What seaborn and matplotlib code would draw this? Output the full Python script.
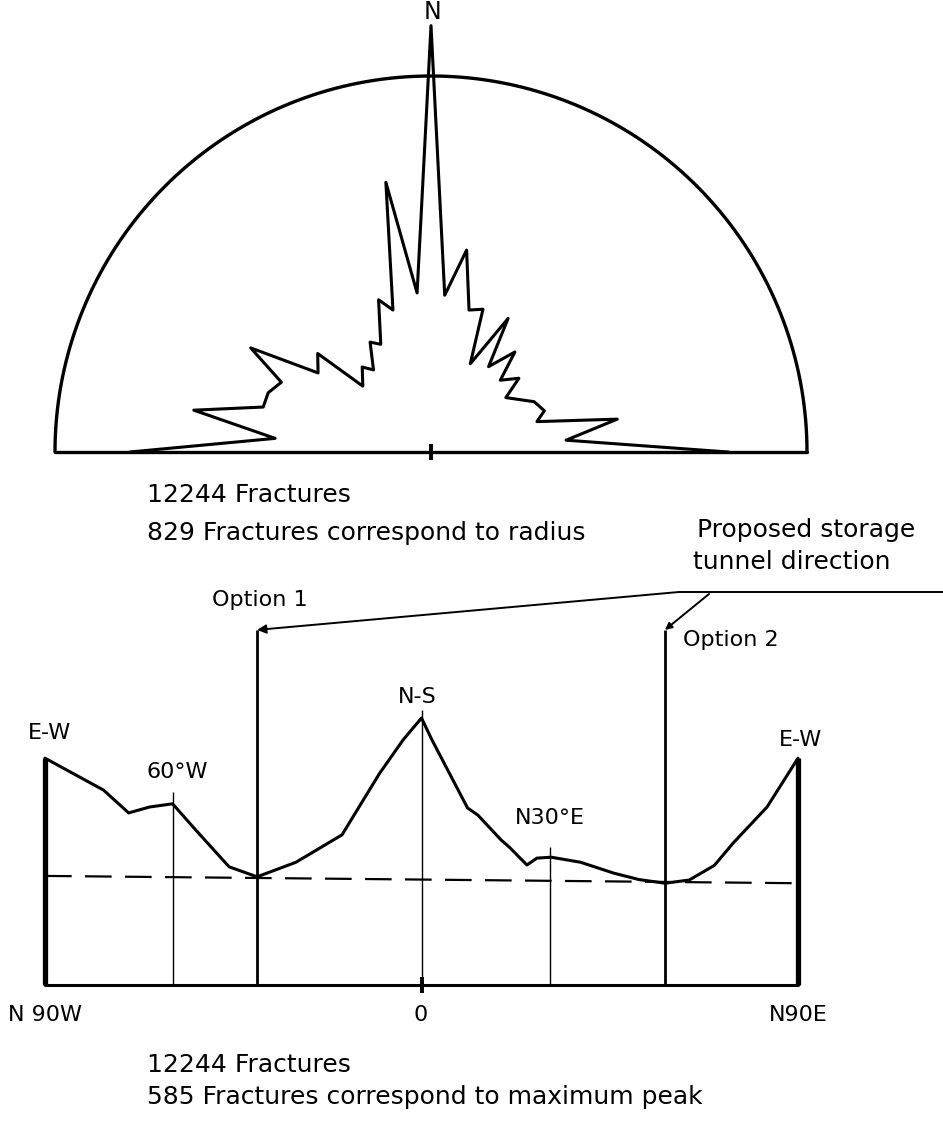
import numpy as np
import pandas as pd
import seaborn as sns
import matplotlib.pyplot as plt

W, H, DPI = 943, 1124, 100

# --- rose diagram (top): azimuth from N in degrees (W negative), fracture count
rose_az = [-90, -85, -80, -75, -70, -65, -60, -55, -49, -46, -39, -35, -29, -25,
           -19, -15, -9.5, -5, 0, 5, 10, 15, 20, 24, 30, 34, 40, 44, 50, 54,
           64, 70, 74, 80, 85, 90]
rose_n = [664, 345, 531, 383, 382, 364, 459, 304, 331, 209, 241, 221, 277, 262,
          355, 324, 603, 352, 940, 347, 452, 324, 335, 213, 340, 227, 288, 220,
          253, 204, 253, 266, 243, 417, 299, 655]
radius_n = 829

# --- strike profile (bottom): strike in degrees (N90W = -90, N90E = 90)
strike_deg = [-90, -76, -70, -65, -59.5, -54, -46, -39.3, -30, -19, -10, -4.4,
              0, 2.5, 11, 13.5, 19, 21, 25.2, 27.6, 31, 38, 46, 52, 58.2, 64,
              70, 74.5, 82.6, 90]
strike_n = [497, 427, 377, 390, 397, 340, 259, 237, 269, 329, 464, 537,
            585, 537, 388, 372, 318, 302, 263, 278, 280, 269, 245, 231, 223, 230,
            262, 311, 390, 497]
mean_level = [239, 223]          # dashed level at N90W and N90E
option_deg = [-39.3, 58.2]
option_top = 778
mark_deg = [-59.5, 0, 30.7]
mark_top = [423, 603, 302]
mark_names = ["60°W", "N-S", "N30°E"]

sns.set_style("white")
plt.rcParams["font.family"] = ["DejaVu Sans"]
plt.rcParams["text.color"] = "black"
fig = plt.figure(figsize=(W / DPI, H / DPI), dpi=DPI)


def box(x0, y0, x1, y1):
    ax = fig.add_axes([x0 / W, 1 - y1 / H, (x1 - x0) / W, (y1 - y0) / H])
    ax.set_axis_off()
    return ax


def ftext(x, y, s, **kw):
    kw.setdefault("fontsize", 18)
    kw.setdefault("va", "center")
    fig.text(x / W, 1 - y / H, s, color="black", **kw)


# ================= rose =================
cx, cy, rpx = 431, 452, 376
k = radius_n / rpx
ax1 = box(0, 0, W, 475)
ax1.set_xlim(-cx * k, (W - cx) * k)
ax1.set_ylim(-(475 - cy) * k, cy * k)

az = np.radians(rose_az)
rn = np.array(rose_n, dtype=float)
rose = pd.DataFrame({"x": rn * np.sin(az), "y": rn * np.cos(az)})
sns.lineplot(data=rose, x="x", y="y", sort=False, estimator=None,
             color="black", lw=2.2, ax=ax1)

t = np.linspace(0, np.pi, 300)
sns.lineplot(x=radius_n * np.cos(t), y=radius_n * np.sin(t), sort=False,
             estimator=None, color="black", lw=2.4, ax=ax1)
ax1.plot([-radius_n, radius_n], [0, 0], color="black", lw=2.4)
ax1.vlines(0, -8 * k, 8 * k, color="black", lw=2.8)

ftext(432, 12, "N", ha="center", fontsize=17)
ftext(147, 495, "12244 Fractures")
ftext(147, 533, "829 Fractures correspond to radius")

# ================= strike profile =================
x0d, ppd = 421.5, 753 / 180
base, cp = 985, 585 / 267
ax2 = box(0, 480, W, H)
ax2.set_xlim(-x0d / ppd, (W - x0d) / ppd)
ax2.set_ylim(-(H - base) * cp, (base - 480) * cp)


def dg(px):
    return (px - x0d) / ppd


def ct(py):
    return (base - py) * cp


prof = pd.DataFrame({"deg": strike_deg, "n": strike_n})
sns.lineplot(data=prof, x="deg", y="n", sort=False, estimator=None,
             color="black", lw=2.2, ax=ax2)
ax2.plot([-90, 90], mean_level, color="black", lw=1.6, ls=(0, (12, 6)))

ax2.plot([-90, 90], [0, 0], color="black", lw=2.2)
ax2.vlines([-90, 90], 0, [strike_n[0], strike_n[-1]], color="black", lw=3.8)
ax2.vlines(option_deg, 0, option_top, color="black", lw=2.0)
ax2.vlines(mark_deg, 0, mark_top, color="black", lw=1.0)
ax2.vlines(0, -8 * cp, 8 * cp, color="black", lw=2.8)

lab = dict(ha="center", va="center", fontsize=16, color="black")
ax2.text(-89, ct(733), "E-W", **lab)
ax2.text(90.5, ct(740), "E-W", **lab)
ax2.text(mark_deg[0] + 1, ct(772), mark_names[0], **lab)
ax2.text(mark_deg[1] - 1, ct(697), mark_names[1], **lab)
ax2.text(mark_deg[2], ct(818), mark_names[2], **lab)

# proposed tunnel direction callouts
ax2.plot([dg(679), dg(W)], [ct(592), ct(592)], color="black", lw=1.4)
ax2.annotate("", xy=(option_deg[0], option_top), xytext=(dg(679), ct(592)),
             arrowprops=dict(arrowstyle="-|>", color="black", lw=1.4,
                             mutation_scale=13, shrinkA=0, shrinkB=0))
ax2.annotate("", xy=(option_deg[1], option_top), xytext=(dg(709), ct(594)),
             arrowprops=dict(arrowstyle="-|>", color="black", lw=1.4,
                             mutation_scale=10, shrinkA=0, shrinkB=0))

ftext(697, 530, "Proposed storage")
ftext(693, 562, "tunnel direction")
ftext(260, 600, "Option 1", ha="center", fontsize=16)
ftext(683, 640, "Option 2", fontsize=16)

ftext(45, 1015, "N 90W", ha="center", fontsize=16)
ftext(421, 1015, "0", ha="center", fontsize=16)
ftext(798, 1015, "N90E", ha="center", fontsize=16)
ftext(147, 1065, "12244 Fractures")
ftext(147, 1097, "585 Fractures correspond to maximum peak")

fig.savefig("out.png", dpi=DPI, facecolor="white")
